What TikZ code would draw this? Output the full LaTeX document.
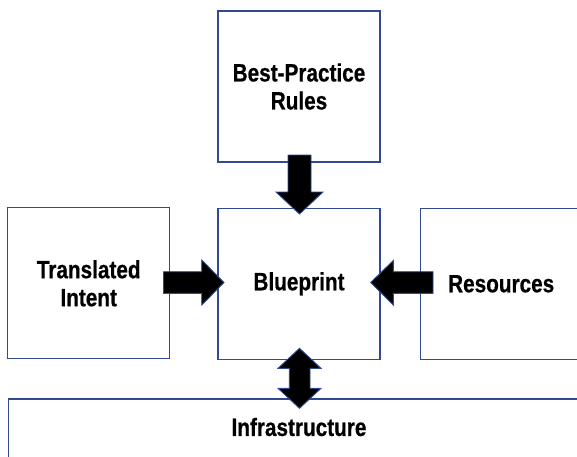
\documentclass[tikz,border=0pt]{standalone}
\usepackage{fontspec}
\setmainfont{Liberation Sans}[FakeStretch=0.83,FakeBold=0.6]
\definecolor{boxblue}{RGB}{47,74,146}
\begin{document}
\begin{tikzpicture}[x=1pt,y=-1pt,
  box/.style={draw=boxblue,line width=1.3pt,fill=white,inner sep=0pt,
    minimum width=162pt,minimum height=151pt,align=center,
    font=\fontsize{25}{28}\selectfont\bfseries},
  blk/.style={fill=black,draw=boxblue,line width=0.9pt,line join=miter}]
\useasboundingbox (0,0) rectangle (577,456);
\begin{scope}
\clip (0,0) rectangle (577,456);
\node[box] (rules) at (299,86.5) {Best-Practice\\Rules};
\node[box] (blue) at (299,283.8) {Blueprint};
\node[box] (intent) at (88.7,283.3) {Translated\\Intent};
\node[box] (res) at (501.2,283.8) {Resources};
\node[box,minimum width=577pt,minimum height=80pt,anchor=north west,text height=0pt,text depth=0pt] (infra) at (8,398.3) {};
\node[font=\fontsize{25}{28}\selectfont\bfseries] (infratext) at (299,427) {Infrastructure};
% down arrow
\draw[blk] (288,155) -- (311,155) -- (311,192) -- (323,192) -- (299.5,214)
  -- (276,192) -- (288,192) -- cycle;
% right arrow
\draw[blk] (163.5,271.7) -- (201.7,271.7) -- (201.7,260) -- (224,282.5)
  -- (201.7,305) -- (201.7,293.3) -- (163.5,293.3) -- cycle;
% left arrow
\draw[blk] (433,271.7) -- (393.3,271.7) -- (393.3,260.5) -- (370.7,282.5)
  -- (393.3,305) -- (393.3,293.3) -- (433,293.3) -- cycle;
% double arrow
\draw[blk] (299.5,348.3) -- (321,368.3) -- (310,368.3) -- (310,388.3)
  -- (321,388.3) -- (299.5,408.3) -- (278,388.3) -- (289.3,388.3)
  -- (289.3,368.3) -- (278,368.3) -- cycle;
\end{scope}
\end{tikzpicture}
\end{document}
